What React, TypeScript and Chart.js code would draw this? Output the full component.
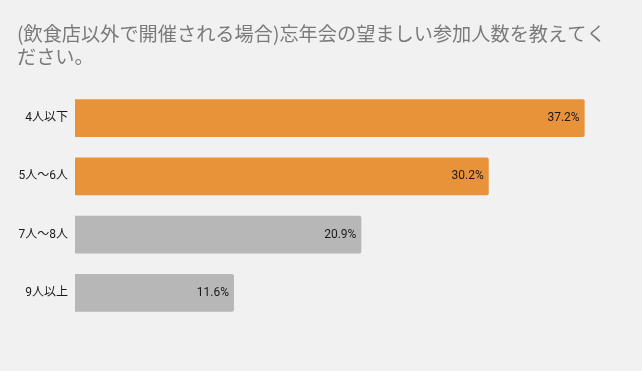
import React, { useEffect, useRef } from "react";
import { Chart, registerables } from "chart.js";

Chart.register(...registerables);

const titleLines = [
  "(飲食店以外で開催される場合)忘年会の望ましい参加人数を教えてく",
  "ださい。",
];
const categories = ["4人以下", "5人～6人", "7人～8人", "9人以上"];
const values = [37.2, 30.2, 20.9, 11.6];
const barColors = ["#e8923a", "#e8923a", "#b7b7b7", "#b7b7b7"];
const valueLabels = ["37.2%", "30.2%", "20.9%", "11.6%"];

const FONT = "Roboto, 'Noto Sans CJK JP', sans-serif";

const titlePlugin = {
  id: "customTitle",
  afterDraw(chart: any) {
    const ctx = chart.ctx;
    ctx.save();
    ctx.fillStyle = "#7a7a7a";
    ctx.font = `19.2px 'Noto Sans CJK JP', sans-serif`;
    ctx.textAlign = "left";
    ctx.textBaseline = "middle";
    titleLines.forEach((line, i) => {
      ctx.fillText(line, 17, 34 + i * 23);
    });
    ctx.restore();
  },
};

const valuePlugin = {
  id: "valueLabels",
  afterDatasetsDraw(chart: any) {
    const ctx = chart.ctx;
    const meta = chart.getDatasetMeta(0);
    ctx.save();
    ctx.fillStyle = "#1a1a1a";
    ctx.font = `12px ${FONT}`;
    ctx.textAlign = "right";
    ctx.textBaseline = "middle";
    meta.data.forEach((bar: any, i: number) => {
      ctx.fillText(valueLabels[i], bar.x - 5, bar.y);
    });
    ctx.restore();
  },
};

export default function App() {
  const ref = useRef<HTMLCanvasElement>(null);
  useEffect(() => {
    document.body.style.margin = "0";
    const chart = new Chart(ref.current!, {
      type: "bar",
      data: {
        labels: categories,
        datasets: [
          {
            data: values,
            backgroundColor: barColors,
            borderRadius: { topRight: 2, bottomRight: 2, topLeft: 0, bottomLeft: 0 },
            borderSkipped: false,
            barPercentage: 0.65,
            categoryPercentage: 1,
          },
        ],
      },
      options: {
        indexAxis: "y",
        animation: false,
        responsive: false,
        layout: { padding: { left: 0, top: 89, right: 19, bottom: 49 } },
        plugins: {
          legend: { display: false },
          tooltip: { enabled: false },
          title: { display: false },
        },
        scales: {
          x: { display: false, min: 0, max: 40 },
          y: {
            afterFit(scale: any) {
              scale.width = 75;
            },
            grid: { display: false, drawTicks: false },
            border: { display: false },
            ticks: {
              padding: 7,
              color: "#1a1a1a",
              font: { family: FONT, size: 12 },
            },
          },
        },
      },
      plugins: [titlePlugin, valuePlugin],
    });
    return () => chart.destroy();
  }, []);
  return (
    <div style={{ width: 642, height: 371, background: "#f1f1f1" }}>
      <canvas ref={ref} width={642} height={371} style={{ display: "block" }} />
    </div>
  );
}
